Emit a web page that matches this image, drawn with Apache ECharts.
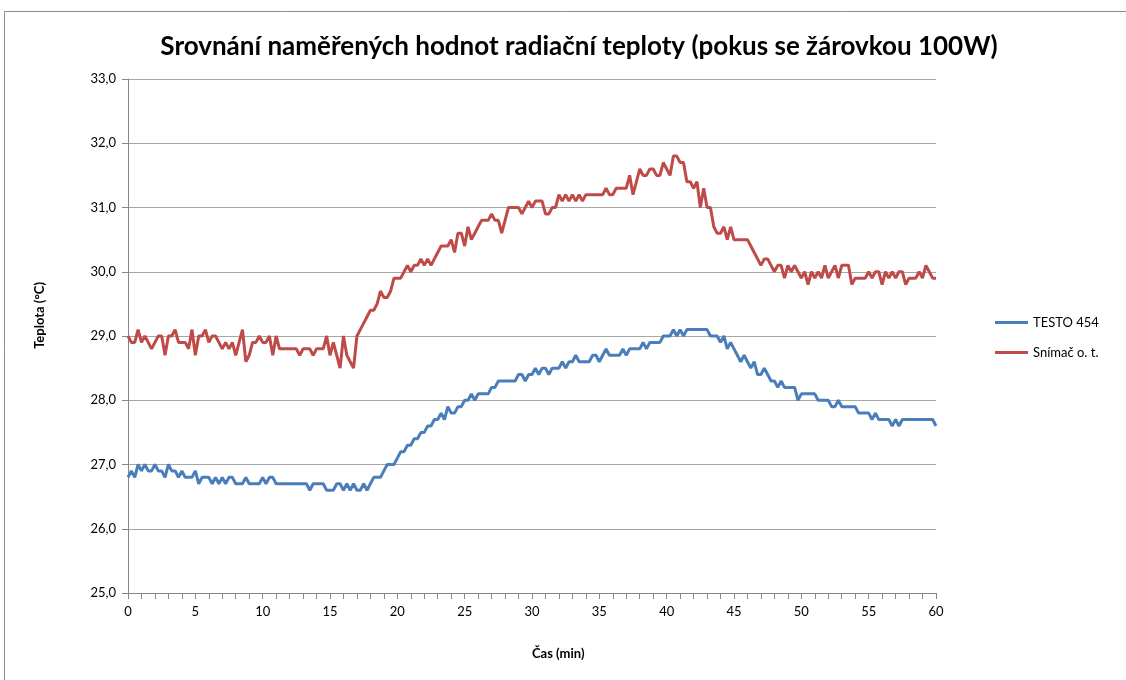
<!DOCTYPE html>
<html>
<head>
<meta charset="utf-8">
<title>Srovnání naměřených hodnot radiační teploty</title>
<script src="https://cdn.jsdelivr.net/npm/echarts@6/dist/echarts.min.js"></script>
<style>
  html, body { margin: 0; padding: 0; background: #fff; }
  #chart { width: 1126px; height: 680px; }
</style>
</head>
<body>
<div id="chart"></div>
<script>
// sampling step of the readings, minutes
var STEP = 0.25;

// TESTO 454, one row per minute (4 readings)
var testo = [
  26.8, 26.9, 26.8, 27.0,   26.9, 27.0, 26.9, 26.9,   27.0, 26.9, 26.9, 26.8,
  27.0, 26.9, 26.9, 26.8,   26.9, 26.8, 26.8, 26.8,   26.9, 26.7, 26.8, 26.8,
  26.8, 26.7, 26.8, 26.7,   26.8, 26.7, 26.8, 26.8,   26.7, 26.7, 26.7, 26.8,
  26.7, 26.7, 26.7, 26.7,   26.8, 26.7, 26.8, 26.8,   26.7, 26.7, 26.7, 26.7,
  26.7, 26.7, 26.7, 26.7,   26.7, 26.7, 26.6, 26.7,   26.7, 26.7, 26.7, 26.6,
  26.6, 26.6, 26.7, 26.7,   26.6, 26.7, 26.6, 26.7,   26.6, 26.6, 26.7, 26.6,
  26.7, 26.8, 26.8, 26.8,   26.9, 27.0, 27.0, 27.0,   27.1, 27.2, 27.2, 27.3,
  27.3, 27.4, 27.4, 27.5,   27.5, 27.6, 27.6, 27.7,   27.7, 27.8, 27.7, 27.9,
  27.8, 27.8, 27.9, 27.9,   28.0, 28.0, 28.1, 28.0,   28.1, 28.1, 28.1, 28.1,
  28.2, 28.2, 28.3, 28.3,   28.3, 28.3, 28.3, 28.3,   28.4, 28.4, 28.3, 28.4,
  28.4, 28.5, 28.4, 28.5,   28.5, 28.4, 28.5, 28.5,   28.5, 28.6, 28.5, 28.6,
  28.6, 28.7, 28.6, 28.6,   28.6, 28.6, 28.7, 28.7,   28.6, 28.7, 28.8, 28.7,
  28.7, 28.7, 28.7, 28.8,   28.7, 28.8, 28.8, 28.8,   28.8, 28.9, 28.8, 28.9,
  28.9, 28.9, 28.9, 29.0,   29.0, 29.0, 29.1, 29.0,   29.1, 29.0, 29.1, 29.1,
  29.1, 29.1, 29.1, 29.1,   29.1, 29.0, 29.0, 29.0,   28.9, 29.0, 28.8, 28.9,
  28.8, 28.7, 28.6, 28.7,   28.6, 28.5, 28.6, 28.4,   28.4, 28.5, 28.4, 28.3,
  28.3, 28.2, 28.3, 28.2,   28.2, 28.2, 28.2, 28.0,   28.1, 28.1, 28.1, 28.1,
  28.1, 28.0, 28.0, 28.0,   28.0, 27.9, 27.9, 28.0,   27.9, 27.9, 27.9, 27.9,
  27.9, 27.8, 27.8, 27.8,   27.8, 27.7, 27.8, 27.7,   27.7, 27.7, 27.7, 27.6,
  27.7, 27.6, 27.7, 27.7,   27.7, 27.7, 27.7, 27.7,   27.7, 27.7, 27.7, 27.7,
  27.6
];

// Snímač o. t.
var snimac = [
  29.0, 28.9, 28.9, 29.1,   28.9, 29.0, 28.9, 28.8,   28.9, 29.0, 29.0, 28.7,
  29.0, 29.0, 29.1, 28.9,   28.9, 28.9, 28.8, 29.1,   28.7, 29.0, 29.0, 29.1,
  28.9, 29.0, 29.0, 28.9,   28.8, 28.9, 28.8, 28.9,   28.7, 28.9, 29.1, 28.6,
  28.7, 28.9, 28.9, 29.0,   28.9, 28.9, 29.0, 28.7,   29.0, 28.8, 28.8, 28.8,
  28.8, 28.8, 28.8, 28.7,   28.8, 28.8, 28.8, 28.7,   28.8, 28.8, 28.8, 29.0,
  28.7, 28.9, 28.7, 28.5,   29.0, 28.7, 28.6, 28.5,   29.0, 29.1, 29.2, 29.3,
  29.4, 29.4, 29.5, 29.7,   29.6, 29.6, 29.7, 29.9,   29.9, 29.9, 30.0, 30.1,
  30.0, 30.1, 30.1, 30.2,   30.1, 30.2, 30.1, 30.2,   30.3, 30.4, 30.4, 30.4,
  30.5, 30.3, 30.6, 30.6,   30.4, 30.7, 30.5, 30.6,   30.7, 30.8, 30.8, 30.8,
  30.9, 30.8, 30.8, 30.6,   30.8, 31.0, 31.0, 31.0,   31.0, 30.9, 31.0, 31.1,
  31.0, 31.1, 31.1, 31.1,   30.9, 30.9, 31.0, 31.0,   31.2, 31.1, 31.2, 31.1,
  31.2, 31.1, 31.2, 31.1,   31.2, 31.2, 31.2, 31.2,   31.2, 31.2, 31.3, 31.2,
  31.2, 31.3, 31.3, 31.3,   31.3, 31.5, 31.2, 31.4,   31.6, 31.5, 31.5, 31.6,
  31.6, 31.5, 31.5, 31.7,   31.6, 31.5, 31.8, 31.8,   31.7, 31.7, 31.4, 31.4,
  31.3, 31.4, 31.0, 31.3,   31.0, 31.0, 30.7, 30.6,   30.6, 30.7, 30.5, 30.7,
  30.5, 30.5, 30.5, 30.5,   30.5, 30.4, 30.3, 30.2,   30.1, 30.2, 30.2, 30.1,
  30.0, 30.1, 30.1, 29.9,   30.1, 30.0, 30.1, 30.0,   29.9, 30.0, 29.8, 30.0,
  29.9, 30.0, 29.9, 30.1,   29.9, 30.0, 30.1, 29.9,   30.1, 30.1, 30.1, 29.8,
  29.9, 29.9, 29.9, 29.9,   30.0, 29.9, 30.0, 30.0,   29.8, 30.0, 29.9, 30.0,
  29.9, 30.0, 30.0, 29.8,   29.9, 29.9, 29.9, 30.0,   29.9, 30.1, 30.0, 29.9,
  29.9
];

var seriesNames = ['TESTO 454', 'Snímač o. t.'];
var seriesColors = ['#4a7ebb', '#be4b48'];

function pairs(values) {
  return values.map(function (v, i) { return [i * STEP, v]; });
}

var font = 'Lato, "Liberation Sans", sans-serif';

var chart = echarts.init(document.getElementById('chart'));
chart.setOption({
  animation: false,
  backgroundColor: '#fff',
  color: seriesColors,
  title: {
    text: 'Srovnání naměřených hodnot radiační teploty (pokus se žárovkou 100W)',
    left: 574,
    textAlign: 'center',
    top: 29,
    textStyle: { fontFamily: font, fontSize: 26, fontWeight: 'bold', color: '#000' }
  },
  legend: {
    orient: 'vertical',
    left: 990,
    top: 311,
    icon: 'rect',
    itemWidth: 33,
    itemHeight: 3,
    itemGap: 17,
    textStyle: { fontFamily: font, fontSize: 13, color: '#000' },
    data: seriesNames
  },
  grid: { left: 128, right: 190, top: 79, bottom: 87, containLabel: false },
  xAxis: {
    type: 'value',
    min: 0,
    max: 60,
    interval: 5,
    axisLine: { lineStyle: { color: '#868686', width: 1 } },
    axisTick: { show: true, length: 6, lineStyle: { color: '#868686' } },
    minorTick: { show: true, splitNumber: 5, length: 6, lineStyle: { color: '#868686' } },
    splitLine: { show: false },
    axisLabel: { fontFamily: font, fontSize: 13, color: '#000', margin: 12 }
  },
  yAxis: {
    type: 'value',
    min: 25,
    max: 33,
    interval: 1,
    axisLine: { show: true, lineStyle: { color: '#868686', width: 1 } },
    axisTick: { show: true, length: 6, lineStyle: { color: '#868686' } },
    splitLine: { lineStyle: { color: '#a6a6a6', width: 1 } },
    axisLabel: {
      fontFamily: font, fontSize: 13, color: '#000', margin: 12,
      formatter: function (v) { return v.toFixed(1).replace('.', ','); }
    }
  },
  graphic: [
    {
      type: 'rect',
      shape: { x: 4.5, y: 11.5, width: 1140, height: 700 },
      style: { fill: 'none', stroke: '#8c8c8c', lineWidth: 1 },
      silent: true
    },
    {
      type: 'text',
      left: 532,
      top: 647,
      style: { text: 'Čas (min)', font: 'bold 13px ' + font, fill: '#000' }
    },
    {
      type: 'text',
      left: 33,
      top: 282,
      rotation: Math.PI / 2,
      style: { text: 'Teplota (°C)', font: 'bold 13px ' + font, fill: '#000' }
    }
  ],
  series: seriesNames.map(function (name, k) {
    return {
      name: name,
      type: 'line',
      symbol: 'none',
      data: pairs(k === 0 ? testo : snimac),
      lineStyle: { width: 3, color: seriesColors[k] },
      itemStyle: { color: seriesColors[k] }
    };
  })
});
</script>
</body>
</html>
